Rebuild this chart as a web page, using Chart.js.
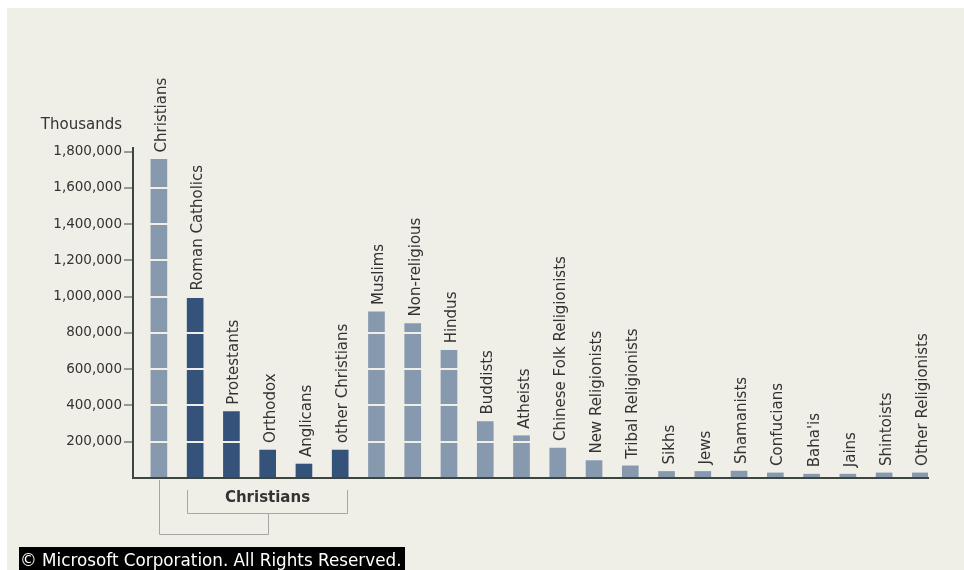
<!DOCTYPE html>
<html>
<head>
<meta charset="utf-8">
<script src="https://cdn.jsdelivr.net/npm/chart.js@4.4.1/dist/chart.umd.min.js"></script>
<style>
    html, body { margin: 0; padding: 0; background: #ffffff; }
    #religions { display: block; }
</style>
</head>
<body>
<canvas id="religions" width="964" height="570"></canvas>
<script>
// Dữ liệu (nghìn người)
const categories = ['Christians', 'Roman Catholics', 'Protestants', 'Orthodox', 'Anglicans', 'other Christians',
    'Muslims', 'Non-religious', 'Hindus', 'Buddists', 'Atheists', 'Chinese Folk Religionists',
    'New Religionists', 'Tribal Religionists', 'Sikhs', 'Jews', 'Shamanists', 'Confucians',
    "Baha'is", 'Jains', 'Shintoists', 'Other Religionists'];
const values = [1757000, 995000, 366000, 154000, 77000, 154000,
    916000, 852000, 704000, 311000, 233000, 165000,
    96000, 67000, 36000, 36000, 38000, 28000,
    21000, 21000, 28000, 28000];
// nhóm con của Christians
const christianSubgroups = ['Roman Catholics', 'Protestants', 'Orthodox', 'Anglicans', 'other Christians'];
const groupLabel = 'Christians';
const yTicks = [200000, 400000, 600000, 800000, 1000000, 1200000, 1400000, 1600000, 1800000];
const yUnit = 'Thousands';
const footer = '\u00A9 Microsoft Corporation. All Rights Reserved.';

const BG = '#efeee7';
const LIGHT = '#8799ae';
const DARK = '#34527a';
const AXIS = '#3c4540';
const TEXT = '#333333';
const FONT = '"DejaVu Sans", Verdana, sans-serif';

function number_format(n) {
    return String(n).replace(/\B(?=(\d{3})+(?!\d))/g, ',');
}

const barColors = categories.map(c => christianSubgroups.includes(c) ? DARK : LIGHT);

// Nền + nhãn + ngoặc nhóm
const decor = {
    id: 'decor',
    beforeDraw(chart) {
        const ctx = chart.ctx;
        ctx.save();
        ctx.fillStyle = BG;
        ctx.fillRect(7, 8, chart.width - 7, chart.height - 8);
        ctx.restore();
    },
    afterDraw(chart) {
        const ctx = chart.ctx;
        const area = chart.chartArea;
        const bars = chart.getDatasetMeta(0).data;
        ctx.save();

        // nhãn dọc trên mỗi cột
        ctx.fillStyle = TEXT;
        ctx.font = '15px ' + FONT;
        ctx.textAlign = 'left';
        ctx.textBaseline = 'alphabetic';
        bars.forEach((el, i) => {
            ctx.save();
            ctx.translate(el.x + 7, el.y - 7);
            ctx.rotate(-Math.PI / 2);
            ctx.fillText(categories[i], 0, 0);
            ctx.restore();
        });

        // "Thousands"
        ctx.font = '15px ' + FONT;
        ctx.textAlign = 'right';
        ctx.textBaseline = 'middle';
        ctx.fillText(yUnit, 122, 125);

        // ngoặc nhóm Christians
        const first = bars[categories.indexOf(christianSubgroups[0])];
        const last = bars[categories.indexOf(christianSubgroups[christianSubgroups.length - 1])];
        const parent = bars[categories.indexOf(groupLabel)];
        const x1 = Math.round(first.x - first.width / 2) + 0.5;
        const x2 = Math.round(last.x + last.width / 2) - 0.5;
        const xm = Math.round((x1 + x2) / 2) + 0.5;
        const xp = Math.round(parent.x) + 0.5;
        const b = area.bottom;
        ctx.strokeStyle = '#a6a6a2';
        ctx.lineWidth = 1;
        ctx.beginPath();
        ctx.moveTo(x1, b + 12); ctx.lineTo(x1, b + 35.5); ctx.lineTo(x2, b + 35.5); ctx.lineTo(x2, b + 12);
        ctx.moveTo(xm, b + 35.5); ctx.lineTo(xm, b + 56.5); ctx.lineTo(xp, b + 56.5); ctx.lineTo(xp, b + 2);
        ctx.stroke();

        ctx.fillStyle = TEXT;
        ctx.font = 'bold 15px ' + FONT;
        ctx.textAlign = 'center';
        ctx.textBaseline = 'middle';
        ctx.fillText(groupLabel, (x1 + x2) / 2, b + 20);

        // footer
        ctx.fillStyle = '#000000';
        ctx.fillRect(19, 547, 386, chart.height - 547);
        ctx.font = '100px ' + FONT;
        const size = 100 * 382 / ctx.measureText(footer).width;
        ctx.font = size.toFixed(2) + 'px ' + FONT;
        ctx.fillStyle = '#ffffff';
        ctx.textAlign = 'left';
        ctx.textBaseline = 'alphabetic';
        ctx.fillText(footer, 20, 566);
        ctx.restore();
    }
};

const canvasElement = document.getElementById('religions');
new Chart(canvasElement.getContext('2d'), {
    type: 'bar',
    data: {
        datasets: [{
            data: values.map((v, i) => ({ x: i, y: v })),
            backgroundColor: barColors,
            borderWidth: 0,
            barThickness: 16
        }]
    },
    options: {
        responsive: false,
        animation: false,
        devicePixelRatio: 1,
        layout: {
            padding: { left: 0, right: 36, top: 148, bottom: 92 }
        },
        plugins: {
            legend: { display: false },
            tooltip: { enabled: false },
            title: { display: false }
        },
        scales: {
            x: {
                type: 'linear',
                offset: false,
                min: -0.714,
                max: 21.21,
                ticks: { display: false },
                grid: { display: false, offset: false },
                border: { display: true, color: AXIS, width: 2, z: 1 },
                afterFit: scale => { scale.height = 0; }
            },
            y: {
                min: 0,
                max: 1820000,
                afterBuildTicks: scale => {
                    scale.ticks = yTicks.map(v => ({ value: v }));
                },
                ticks: {
                    callback: v => number_format(v),
                    color: TEXT,
                    padding: 2,
                    font: { family: FONT, size: 13.5 }
                },
                grid: {
                    color: BG,
                    lineWidth: 2,
                    tickColor: AXIS,
                    tickWidth: 1,
                    tickLength: 9,
                    z: 1
                },
                border: { display: true, color: AXIS, width: 2, z: 1 },
                afterFit: scale => { scale.width = 133; }
            }
        }
    },
    plugins: [decor]
});
</script>
</body>
</html>
